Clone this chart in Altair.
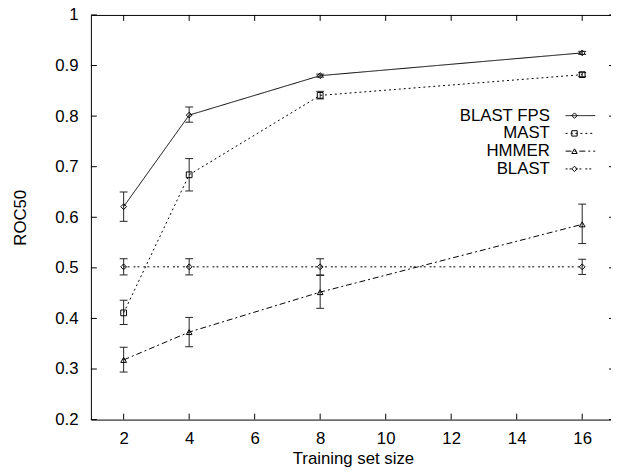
import altair as alt
import pandas as pd

# ---- data ----
sizes = [2, 4, 8, 16]
methods = ["BLAST FPS", "MAST", "HMMER", "BLAST"]

blast_fps = [0.621, 0.802, 0.880, 0.925]
blast_fps_lo = [0.592, 0.788, 0.877, 0.922]
blast_fps_hi = [0.650, 0.818, 0.883, 0.928]

mast = [0.411, 0.684, 0.841, 0.882]
mast_lo = [0.388, 0.652, 0.834, 0.878]
mast_hi = [0.436, 0.716, 0.849, 0.886]

hmmer = [0.318, 0.373, 0.452, 0.586]
hmmer_lo = [0.294, 0.344, 0.420, 0.548]
hmmer_hi = [0.343, 0.402, 0.485, 0.626]

blast = [0.502, 0.502, 0.502, 0.502]
blast_lo = [0.486, 0.486, 0.486, 0.487]
blast_hi = [0.518, 0.518, 0.518, 0.517]

x_ticks = [2, 4, 6, 8, 10, 12, 14, 16]
y_ticks = [0.2, 0.3, 0.4, 0.5, 0.6, 0.7, 0.8, 0.9, 1.0]

dashes = [[1, 0], [2, 3], [6, 3, 2, 3], [2, 2, 2, 4]]
shapes = ["diamond", "square", "triangle-up", "diamond"]

rows = []
for m, vals, lo, hi in zip(
    methods,
    [blast_fps, mast, hmmer, blast],
    [blast_fps_lo, mast_lo, hmmer_lo, blast_lo],
    [blast_fps_hi, mast_hi, hmmer_hi, blast_hi],
):
    for s, v, l, h in zip(sizes, vals, lo, hi):
        rows.append({"method": m, "size": s, "roc": v, "lo": l, "hi": h})
df = pd.DataFrame(rows)

W, H = 531, 410
FONT = "Liberation Sans"
FS = 17

xscale = alt.Scale(domain=[1, 17], nice=False, zero=False)
yscale = alt.Scale(domain=[0.2, 1.0], nice=False, zero=False)

xaxis = alt.Axis(values=x_ticks, grid=False, ticks=False, domain=False,
                 labelFont=FONT, labelFontSize=FS, labelColor="black",
                 labelPadding=11, title="Training set size", titleFont=FONT,
                 titleFontSize=FS, titleFontWeight="normal", titleColor="black",
                 titlePadding=4, labelFlush=False)
yaxis = alt.Axis(values=y_ticks, format=".1~f", grid=False, ticks=False, domain=False,
                 labelFont=FONT, labelFontSize=FS, labelColor="black",
                 labelPadding=13, title="ROC50", titleFont=FONT,
                 titleFontSize=FS, titleFontWeight="normal", titleColor="black",
                 titlePadding=26, labelFlush=False)


def X(field):
    return alt.X(field, type="quantitative", scale=xscale, axis=xaxis)


def Y(field):
    return alt.Y(field, type="quantitative", scale=yscale, axis=yaxis)


dash_enc = alt.StrokeDash("method:N", scale=alt.Scale(domain=methods, range=dashes), legend=None)
shape_enc = alt.Shape("method:N", scale=alt.Scale(domain=methods, range=shapes), legend=None)

base = alt.Chart(df)

lines = base.mark_line(color="black", strokeWidth=1).encode(
    x=X("size"), y=Y("roc"), strokeDash=dash_enc, detail="method:N")
bars = base.mark_rule(color="#222", strokeWidth=1).encode(
    x=X("size"), y=Y("lo"), y2="hi")
cap_lo = base.mark_rule(color="#222", strokeWidth=1, xOffset=-4, x2Offset=4).encode(
    x=X("size"), x2="size", y=Y("lo"))
cap_hi = base.mark_rule(color="#222", strokeWidth=1, xOffset=-4, x2Offset=4).encode(
    x=X("size"), x2="size", y=Y("hi"))
points = base.mark_point(filled=False, color="black", size=34, strokeWidth=1, opacity=1).encode(
    x=X("size"), y=Y("roc"), shape=shape_enc)

xt = alt.Chart(pd.DataFrame({"t": x_ticks}))
yt = alt.Chart(pd.DataFrame({"t": y_ticks}))
tick_b = xt.mark_rule(color="black").encode(x=X("t"), y=alt.value(H), y2=alt.value(H - 6))
tick_t = xt.mark_rule(color="black").encode(x=X("t"), y=alt.value(0), y2=alt.value(6))
tick_l = yt.mark_rule(color="black").encode(y=Y("t"), x=alt.value(0), x2=alt.value(6))
tick_r = yt.mark_rule(color="black").encode(y=Y("t"), x=alt.value(W - 6), x2=alt.value(W))

# ---- key ----
key_y = [102, 120, 138, 156]
key_layers = []
for name, ky, dsh, shp in zip(methods, key_y, dashes, shapes):
    kd = alt.Chart(pd.DataFrame({"method": [name]}))
    key_layers.append(kd.mark_text(align="right", baseline="middle", font=FONT,
                                   fontSize=FS, color="black").encode(
        x=alt.value(465), y=alt.value(ky), text="method:N"))
    key_layers.append(kd.mark_rule(color="black", strokeWidth=1, strokeDash=dsh).encode(
        x=alt.value(481), x2=alt.value(511), y=alt.value(ky)))
    key_layers.append(kd.mark_point(filled=False, color="black", size=30, strokeWidth=1,
                                    shape=shp, opacity=1).encode(
        x=alt.value(490), y=alt.value(ky)))

chart = alt.layer(
    lines, bars, cap_lo, cap_hi, points, tick_b, tick_t, tick_l, tick_r, *key_layers
).properties(
    width=W, height=H,
    autosize=alt.AutoSizeParams(type="none"),
    padding={"left": 84, "top": 4, "right": -4, "bottom": 46},
    background="white",
).configure_view(stroke="black", strokeWidth=1)

chart.save("out.html", embed_options={"renderer": "svg", "actions": False})
